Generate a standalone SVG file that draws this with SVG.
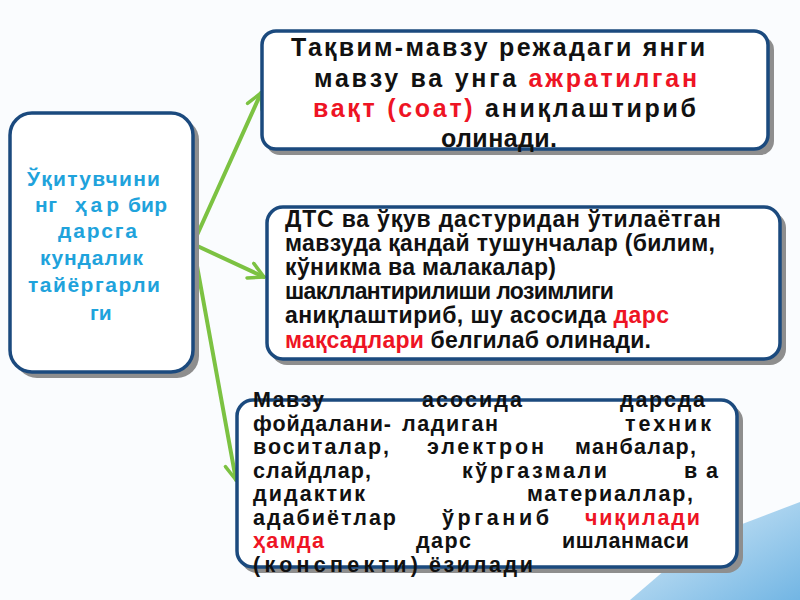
<svg xmlns="http://www.w3.org/2000/svg" width="800" height="600" viewBox="0 0 800 600">
<defs>
<style>
.shadow{fill:#8e8e8e;}
.box{fill:#ffffff;stroke:#1b4a7e;stroke-width:3.5;}
.t{font-family:"Liberation Sans",Arial,sans-serif;font-weight:bold;fill:#111111;}
.b{font-family:"Liberation Sans",Arial,sans-serif;font-weight:bold;fill:#111111;font-size:21.5px;}
.cy{font-family:"Liberation Sans",Arial,sans-serif;font-weight:bold;fill:#1fa3dc;font-size:21px;}
.red{fill:#ee1424;}
.conn{stroke:#7cc242;stroke-width:4;fill:none;stroke-linecap:round;}
</style>
<marker id="ah" viewBox="0 0 20 20" refX="18" refY="10" markerWidth="20" markerHeight="20" markerUnits="userSpaceOnUse" orient="auto">
<path d="M3,2 L18,10 L3,18" fill="none" stroke="#7cc242" stroke-width="3.5" stroke-linecap="round" stroke-linejoin="round"/>
</marker>
<linearGradient id="bg2" x1="0" y1="0" x2="1" y2="1">
<stop offset="0" stop-color="#d6ebf8"/>
<stop offset="1" stop-color="#5aa9df"/>
</linearGradient>
</defs>
<rect x="0" y="0" width="800" height="600" fill="#fafcfe"/>
<polygon points="630,600 700,540 800,502 800,600" fill="url(#bg2)" opacity="0.85"/>

<g id="connectors">
<line class="conn" x1="193" y1="244" x2="261" y2="93" marker-end="url(#ah)"/>
<line class="conn" x1="193" y1="244" x2="264" y2="277" stroke-width="5" marker-end="url(#ah)"/>
<line class="conn" x1="193" y1="244" x2="236" y2="480" marker-end="url(#ah)"/>
</g>

<g id="node-teacher">
<rect class="shadow" x="15" y="118" width="184" height="260" rx="22"/>
<rect class="box" x="10" y="113" width="183" height="259" rx="22"/>
<text class="cy" x="27" y="186" textLength="133" lengthAdjust="spacing">Ўқитувчини</text>
<text class="cy" x="35" y="212" textLength="22" lengthAdjust="spacing">нг</text>
<text class="cy" x="75" y="212" textLength="44" lengthAdjust="spacing">ҳар</text>
<text class="cy" x="128" y="212" textLength="39" lengthAdjust="spacing">бир</text>
<text class="cy" x="58" y="238" textLength="79" lengthAdjust="spacing">дарсга</text>
<text class="cy" x="40" y="265" textLength="103" lengthAdjust="spacing">кундалик</text>
<text class="cy" x="28" y="292" textLength="132" lengthAdjust="spacing">тайёргарли</text>
<text class="cy" x="90" y="320">ги</text>
</g>

<g id="node-calendar">
<rect class="shadow" x="266" y="36" width="508" height="119" rx="14"/>
<rect class="box" x="262" y="31" width="506" height="118" rx="14"/>
<text class="t" font-size="25" x="291" y="56" textLength="414" lengthAdjust="spacing">Тақвим-мавзу режадаги янги</text>
<text class="t" font-size="25" x="314" y="87" textLength="383" lengthAdjust="spacing">мавзу ва унга <tspan class="red">ажратилган</tspan></text>
<text class="t" font-size="25" x="313" y="117" textLength="383" lengthAdjust="spacing"><tspan class="red">вақт (соат)</tspan> аниқлаштириб</text>
<text class="t" font-size="25" x="441" y="147" textLength="116" lengthAdjust="spacing">олинади.</text>
</g>

<g id="node-goals">
<rect class="shadow" x="271" y="212" width="515" height="153" rx="16"/>
<rect class="box" x="267" y="207" width="513" height="152" rx="16"/>
<text class="t" font-size="23" x="285" y="227" textLength="436" lengthAdjust="spacing">ДТС ва ўқув дастуридан ўтилаётган</text>
<text class="t" font-size="23" x="285" y="251" textLength="430" lengthAdjust="spacing">мавзуда қандай тушунчалар (билим,</text>
<text class="t" font-size="23" x="285" y="275" textLength="271" lengthAdjust="spacing">кўникма ва малакалар)</text>
<text class="t" font-size="23" x="285" y="299" textLength="329" lengthAdjust="spacing">шакллантирилиши лозимлиги</text>
<text class="t" font-size="23" x="285" y="323" textLength="384" lengthAdjust="spacing">аниқлаштириб,  шу асосида <tspan class="red">дарс</tspan></text>
<text class="t" font-size="23" x="285" y="348" textLength="366" lengthAdjust="spacing"><tspan class="red">мақсадлари</tspan> белгилаб олинади.</text>
</g>

<g id="node-materials">
<rect class="shadow" x="241" y="405" width="502" height="168" rx="16"/>
<rect class="box" x="237" y="400" width="500" height="167" rx="16"/>
<text class="b" x="253" y="407" textLength="71" lengthAdjust="spacing">Мавзу</text>
<text class="b" x="422" y="407" textLength="100" lengthAdjust="spacing">асосида</text>
<text class="b" x="620" y="407" textLength="85" lengthAdjust="spacing">дарсда</text>
<text class="b" x="253" y="430.5" textLength="138" lengthAdjust="spacing">фойдалани-</text>
<text class="b" x="402" y="430.5" textLength="96" lengthAdjust="spacing">ладиган</text>
<text class="b" x="625" y="430.5" textLength="86" lengthAdjust="spacing">техник</text>
<text class="b" x="253" y="454" textLength="136" lengthAdjust="spacing">воситалар,</text>
<text class="b" x="427" y="454" textLength="117" lengthAdjust="spacing">электрон</text>
<text class="b" x="575" y="454" textLength="121" lengthAdjust="spacing">манбалар,</text>
<text class="b" x="253" y="477.5" textLength="118" lengthAdjust="spacing">слайдлар,</text>
<text class="b" x="462" y="477.5" textLength="145" lengthAdjust="spacing">кўргазмали</text>
<text class="b" x="684" y="477.5" textLength="34" lengthAdjust="spacing">ва</text>
<text class="b" x="253" y="501" textLength="112" lengthAdjust="spacing">дидактик</text>
<text class="b" x="527" y="501" textLength="166" lengthAdjust="spacing">материаллар,</text>
<text class="b" x="253" y="524.5" textLength="143" lengthAdjust="spacing">адабиётлар</text>
<text class="b" x="442" y="524.5" textLength="107" lengthAdjust="spacing">ўрганиб</text>
<text class="b red" x="585" y="524.5" textLength="115" lengthAdjust="spacing">чиқилади</text>
<text class="b red" x="253" y="548" textLength="71" lengthAdjust="spacing">ҳамда</text>
<text class="b" x="416" y="548" textLength="55" lengthAdjust="spacing">дарс</text>
<text class="b" x="562" y="548" textLength="127" lengthAdjust="spacing">ишланмаси</text>
<text class="b" x="253" y="571.5" textLength="165" lengthAdjust="spacing">(конспекти)</text>
<text class="b" x="429" y="571.5" textLength="104" lengthAdjust="spacing">ёзилади</text>
</g>
</svg>
